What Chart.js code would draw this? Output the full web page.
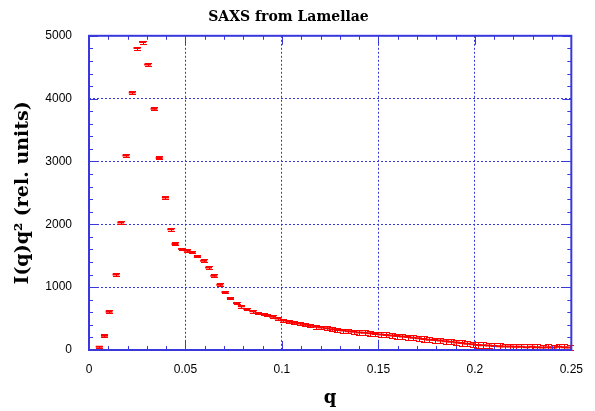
<!DOCTYPE html>
<html>
<head>
<meta charset="utf-8">
<script src="https://cdn.jsdelivr.net/npm/chart.js@4.4.1/dist/chart.umd.min.js"></script>
<style>
  html, body { margin: 0; padding: 0; background: #fff; }
  #wrap { width: 595px; height: 411px; }
</style>
</head>
<body>
<div id="wrap"><canvas id="saxsChart" width="595" height="411"></canvas></div>
<script>
// scattering vector q
var qValues = [
  0.0053, 0.008, 0.0104, 0.014, 0.0165, 0.0191, 0.0224, 0.0249, 0.0278, 0.0304,
  0.0337, 0.0364, 0.0396, 0.0424, 0.0446, 0.048, 0.0509, 0.0534, 0.0562, 0.0594,
  0.062, 0.0647, 0.0678, 0.0705, 0.0733, 0.0765, 0.079, 0.0818, 0.0849, 0.0876,
  0.0905, 0.0924, 0.0952, 0.098, 0.1008, 0.1036, 0.1064, 0.1092, 0.112, 0.1148,
  0.1176, 0.1204, 0.1232, 0.126, 0.1288, 0.1316, 0.1344, 0.1372, 0.14, 0.1428,
  0.1456, 0.1484, 0.1512, 0.154, 0.1568, 0.1596, 0.1624, 0.1652, 0.168, 0.1708,
  0.1736, 0.1764, 0.1792, 0.182, 0.1848, 0.1876, 0.1904, 0.1932, 0.196, 0.1988,
  0.2016, 0.2044, 0.2072, 0.21, 0.2128, 0.2156, 0.2184, 0.2212, 0.224, 0.2268,
  0.2296, 0.2324, 0.2352, 0.238, 0.2408, 0.2436, 0.2464, 0.2492
];

// I(q)q^2 in relative units
var iq2Values = [
  50, 228, 610, 1200, 2027, 3094, 4097, 4804, 4900, 4543,
  3838, 3057, 2425, 1922, 1688, 1608, 1581, 1556, 1497, 1422,
  1311, 1183, 1040, 924, 828, 748, 696, 653, 616, 589,
  573, 555, 530, 500, 470, 450, 435, 420, 400, 385,
  370, 360, 345, 330, 320, 310, 300, 290, 280, 275,
  265, 255, 245, 240, 230, 222, 215, 205, 195, 185,
  175, 165, 158, 150, 140, 130, 120, 110, 100, 90,
  80, 75, 70, 65, 60, 55, 55, 50, 50, 45,
  50, 45, 40, 45, 40, 50, 45, 40
];

// error bar half heights
var errValues = [
  15, 20, 20, 20, 25, 25, 25, 25, 25, 25,
  25, 25, 25, 25, 25, 20, 20, 20, 20, 20,
  20, 20, 20, 20, 20, 20, 20, 20, 20, 20,
  20, 20, 20, 22, 22, 24, 24, 25, 26, 26,
  28, 28, 30, 30, 32, 32, 34, 34, 35, 36,
  36, 38, 38, 40, 40, 40, 40, 40, 40, 40,
  40, 40, 40, 42, 42, 42, 44, 44, 44, 45,
  45, 45, 45, 45, 45, 45, 45, 45, 45, 45,
  45, 45, 45, 45, 45, 45, 45, 45
];

var xTicks = [0, 0.05, 0.1, 0.15, 0.2, 0.25];
var yTicks = [0, 1000, 2000, 3000, 4000, 5000];

var red = "#ff0000";
var blue = "#3838dc";

var points = qValues.map(function (q, i) {
  return { x: q, y: iq2Values[i] };
});

// error bars with caps, placed through the chart scales
var errorBars = {
  id: "errorBars",
  afterDatasetsDraw: function (chart) {
    var ctx = chart.ctx;
    var xs = chart.scales.x;
    var ys = chart.scales.y;
    ctx.save();
    ctx.strokeStyle = red;
    ctx.lineWidth = 1;
    for (var i = 0; i < qValues.length; i++) {
      var x = Math.round(xs.getPixelForValue(qValues[i])) + 0.5;
      var top = Math.round(ys.getPixelForValue(iq2Values[i] + errValues[i])) + 0.5;
      var bot = Math.round(ys.getPixelForValue(Math.max(0, iq2Values[i] - errValues[i]))) + 0.5;
      ctx.beginPath();
      ctx.moveTo(x, top);
      ctx.lineTo(x, bot);
      ctx.moveTo(x - 3.5, top);
      ctx.lineTo(x + 3.5, top);
      ctx.moveTo(x - 3.5, bot);
      ctx.lineTo(x + 3.5, bot);
      ctx.stroke();
    }
    ctx.restore();
  }
};

// box frame and inward ticks
var frame = {
  id: "frame",
  afterDraw: function (chart) {
    var ctx = chart.ctx;
    var a = chart.chartArea;
    var xs = chart.scales.x;
    var ys = chart.scales.y;
    ctx.save();
    ctx.strokeStyle = blue;
    ctx.lineWidth = 1;
    ctx.beginPath();
    for (var k = 0; k <= 25; k++) {
      var px = Math.round(xs.getPixelForValue(k / 100)) + 0.5;
      var len = k % 5 === 0 ? 9 : 4;
      ctx.moveTo(px, a.bottom);
      ctx.lineTo(px, a.bottom - len);
      ctx.moveTo(px, a.top);
      ctx.lineTo(px, a.top + len);
    }
    for (var m = 0; m <= 25; m++) {
      var py = Math.round(ys.getPixelForValue(m * 200)) + 0.5;
      var ylen = m % 5 === 0 ? 9 : 4;
      ctx.moveTo(a.left, py);
      ctx.lineTo(a.left + ylen, py);
      ctx.moveTo(a.right, py);
      ctx.lineTo(a.right - ylen, py);
    }
    ctx.stroke();
    ctx.lineWidth = 2;
    ctx.strokeRect(a.left, a.top, a.right - a.left, a.bottom - a.top);
    ctx.restore();
  }
};

new Chart("saxsChart", {
  type: "scatter",
  data: {
    datasets: [
      {
        label: "SAXS",
        data: points,
        pointStyle: "line",
        pointRadius: 3.5,
        pointBorderWidth: 2,
        pointBorderColor: red,
        pointBackgroundColor: red,
        pointHoverRadius: 3.5,
        showLine: false
      }
    ]
  },
  options: {
    responsive: false,
    animation: false,
    events: [],
    layout: { padding: { left: 0, right: 18, top: 6, bottom: 0 } },
    plugins: {
      legend: { display: false },
      tooltip: { enabled: false },
      title: {
        display: true,
        text: "SAXS from Lamellae",
        color: "#000",
        font: { family: "DejaVu Serif", weight: "bold", size: 14 },
        padding: { top: 3, bottom: 10 }
      }
    },
    scales: {
      x: {
        type: "linear",
        min: 0,
        max: 0.25,
        afterBuildTicks: function (scale) {
          scale.ticks = xTicks.map(function (v) { return { value: v }; });
        },
        afterFit: function (scale) { scale.height = 61; },
        ticks: {
          color: "#000",
          font: { family: "Liberation Sans", size: 12 },
          padding: 12,
          maxRotation: 0,
          callback: function (v) { return String(v); }
        },
        grid: { color: blue, drawTicks: false, lineWidth: 1 },
        border: { display: false, dash: [2, 2] },
        title: {
          display: true,
          text: "q",
          color: "#000",
          font: { family: "DejaVu Serif", weight: "bold", size: 18 },
          padding: { top: 0, bottom: 2 }
        }
      },
      y: {
        type: "linear",
        min: 0,
        max: 5000,
        afterBuildTicks: function (scale) {
          scale.ticks = yTicks.map(function (v) { return { value: v }; });
        },
        afterFit: function (scale) { scale.width = 89; },
        ticks: {
          color: "#000",
          font: { family: "Liberation Sans", size: 12 },
          padding: 17,
          callback: function (v) { return String(v); }
        },
        grid: { color: blue, drawTicks: false, lineWidth: 1 },
        border: { display: false, dash: [2, 2] },
        title: {
          display: true,
          text: "I(q)q² (rel. units)",
          color: "#000",
          font: { family: "DejaVu Serif", weight: "bold", size: 19 },
          padding: { top: 12, bottom: 0 }
        }
      }
    }
  },
  plugins: [errorBars, frame]
});
</script>
</body>
</html>
